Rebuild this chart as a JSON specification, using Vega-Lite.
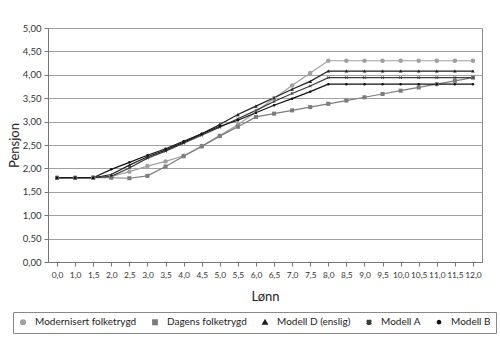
{
  "$schema": "https://vega.github.io/schema/vega-lite/v6.json",
  "width": 434,
  "height": 234,
  "autosize": {"type": "none"},
  "padding": {"left": 48, "top": 28, "right": 18, "bottom": 94},
  "background": "white",
  "config": {
    "font": "Lato",
    "view": {"stroke": "#8a8a8a", "strokeWidth": 1}
  },
  "data": {
    "values": [
      {"Lønn": "0,0", "Modernisert folketrygd": 1.80, "Dagens folketrygd": 1.80, "Modell D (enslig)": 1.80, "Modell A": 1.80, "Modell B": 1.80},
      {"Lønn": "1,0", "Modernisert folketrygd": 1.80, "Dagens folketrygd": 1.80, "Modell D (enslig)": 1.80, "Modell A": 1.80, "Modell B": 1.80},
      {"Lønn": "1,5", "Modernisert folketrygd": 1.81, "Dagens folketrygd": 1.80, "Modell D (enslig)": 1.80, "Modell A": 1.80, "Modell B": 1.80},
      {"Lønn": "2,0", "Modernisert folketrygd": 1.83, "Dagens folketrygd": 1.80, "Modell D (enslig)": 1.87, "Modell A": 1.83, "Modell B": 1.98},
      {"Lønn": "2,5", "Modernisert folketrygd": 1.93, "Dagens folketrygd": 1.79, "Modell D (enslig)": 2.07, "Modell A": 2.01, "Modell B": 2.13},
      {"Lønn": "3,0", "Modernisert folketrygd": 2.05, "Dagens folketrygd": 1.84, "Modell D (enslig)": 2.25, "Modell A": 2.22, "Modell B": 2.28},
      {"Lønn": "3,5", "Modernisert folketrygd": 2.15, "Dagens folketrygd": 2.04, "Modell D (enslig)": 2.39, "Modell A": 2.37, "Modell B": 2.42},
      {"Lønn": "4,0", "Modernisert folketrygd": 2.27, "Dagens folketrygd": 2.26, "Modell D (enslig)": 2.56, "Modell A": 2.54, "Modell B": 2.58},
      {"Lønn": "4,5", "Modernisert folketrygd": 2.48, "Dagens folketrygd": 2.47, "Modell D (enslig)": 2.74, "Modell A": 2.71, "Modell B": 2.74},
      {"Lønn": "5,0", "Modernisert folketrygd": 2.70, "Dagens folketrygd": 2.69, "Modell D (enslig)": 2.94, "Modell A": 2.88, "Modell B": 2.90},
      {"Lønn": "5,5", "Modernisert folketrygd": 2.93, "Dagens folketrygd": 2.89, "Modell D (enslig)": 3.15, "Modell A": 3.06, "Modell B": 3.03},
      {"Lønn": "6,0", "Modernisert folketrygd": 3.21, "Dagens folketrygd": 3.10, "Modell D (enslig)": 3.33, "Modell A": 3.24, "Modell B": 3.19},
      {"Lønn": "6,5", "Modernisert folketrygd": 3.50, "Dagens folketrygd": 3.17, "Modell D (enslig)": 3.51, "Modell A": 3.43, "Modell B": 3.35},
      {"Lønn": "7,0", "Modernisert folketrygd": 3.77, "Dagens folketrygd": 3.24, "Modell D (enslig)": 3.69, "Modell A": 3.60, "Modell B": 3.49},
      {"Lønn": "7,5", "Modernisert folketrygd": 4.04, "Dagens folketrygd": 3.31, "Modell D (enslig)": 3.86, "Modell A": 3.76, "Modell B": 3.64},
      {"Lønn": "8,0", "Modernisert folketrygd": 4.30, "Dagens folketrygd": 3.38, "Modell D (enslig)": 4.08, "Modell A": 3.94, "Modell B": 3.80},
      {"Lønn": "8,5", "Modernisert folketrygd": 4.30, "Dagens folketrygd": 3.45, "Modell D (enslig)": 4.08, "Modell A": 3.94, "Modell B": 3.80},
      {"Lønn": "9,0", "Modernisert folketrygd": 4.30, "Dagens folketrygd": 3.52, "Modell D (enslig)": 4.08, "Modell A": 3.94, "Modell B": 3.80},
      {"Lønn": "9,5", "Modernisert folketrygd": 4.30, "Dagens folketrygd": 3.59, "Modell D (enslig)": 4.08, "Modell A": 3.94, "Modell B": 3.80},
      {"Lønn": "10,0", "Modernisert folketrygd": 4.30, "Dagens folketrygd": 3.66, "Modell D (enslig)": 4.08, "Modell A": 3.94, "Modell B": 3.80},
      {"Lønn": "10,5", "Modernisert folketrygd": 4.30, "Dagens folketrygd": 3.73, "Modell D (enslig)": 4.08, "Modell A": 3.94, "Modell B": 3.80},
      {"Lønn": "11,0", "Modernisert folketrygd": 4.30, "Dagens folketrygd": 3.80, "Modell D (enslig)": 4.08, "Modell A": 3.94, "Modell B": 3.80},
      {"Lønn": "11,5", "Modernisert folketrygd": 4.30, "Dagens folketrygd": 3.87, "Modell D (enslig)": 4.08, "Modell A": 3.94, "Modell B": 3.80},
      {"Lønn": "12,0", "Modernisert folketrygd": 4.30, "Dagens folketrygd": 3.94, "Modell D (enslig)": 4.08, "Modell A": 3.94, "Modell B": 3.80}
    ]
  },
  "transform": [
    {"fold": ["Modernisert folketrygd", "Dagens folketrygd", "Modell D (enslig)", "Modell A", "Modell B"], "as": ["Serie", "Pensjon"]}
  ],
  "encoding": {
    "x": {
      "field": "Lønn",
      "type": "ordinal",
      "sort": null,
      "scale": {"type": "point", "padding": 0.5},
      "axis": {
        "title": "Lønn",
        "titleFont": "Lato",
        "titleFontSize": 13,
        "titleFontWeight": "normal",
        "titleColor": "#222",
        "titlePadding": 12,
        "labelAngle": 0,
        "labelFontSize": 8.4,
        "labelColor": "#333",
        "labelOverlap": false,
        "labelPadding": 4,
        "tickSize": 4,
        "tickColor": "#777",
        "domainColor": "#777",
        "grid": false
      }
    },
    "y": {
      "field": "Pensjon",
      "type": "quantitative",
      "scale": {"domain": [0, 5], "nice": false, "zero": true},
      "axis": {
        "title": "Pensjon",
        "titleFont": "Lato",
        "titleFontSize": 13,
        "titleFontWeight": "normal",
        "titleColor": "#222",
        "titlePadding": 1,
        "values": [0, 0.5, 1, 1.5, 2, 2.5, 3, 3.5, 4, 4.5, 5],
        "labelExpr": "replace(format(datum.value, '.2f'), '.', ',')",
        "labelFontSize": 9.5,
        "labelColor": "#333",
        "labelPadding": 3,
        "tickSize": 4,
        "tickColor": "#777",
        "domainColor": "#777",
        "grid": true,
        "gridColor": "#a0a0a0",
        "gridWidth": 1
      }
    },
    "color": {
      "field": "Serie",
      "type": "nominal",
      "scale": {
        "domain": ["Modernisert folketrygd", "Dagens folketrygd", "Modell D (enslig)", "Modell A", "Modell B"],
        "range": ["#a0a0a0", "#7c7c7c", "#1e1e1e", "#3a3a3a", "#111111"]
      },
      "legend": {
        "title": null,
        "orient": "none",
        "legendX": -35,
        "legendY": 284,
        "direction": "horizontal",
        "columns": 5,
        "columnPadding": 12,
        "padding": 5,
        "strokeColor": "#888",
        "fillColor": "white",
        "labelFont": "Lato",
        "labelFontSize": 10,
        "labelColor": "#222",
        "symbolSize": 30,
        "labelOffset": 7
      }
    }
  },
  "layer": [
    {
      "mark": {"type": "line", "strokeWidth": 1.2},
      "encoding": {
        "strokeWidth": {
          "field": "Serie",
          "type": "nominal",
          "scale": {
            "domain": ["Modernisert folketrygd", "Dagens folketrygd", "Modell D (enslig)", "Modell A", "Modell B"],
            "range": [1.6, 2.2, 1, 1, 1]
          },
          "legend": null
        }
      }
    },
    {
      "mark": {"type": "point", "filled": true, "opacity": 1},
      "encoding": {
        "shape": {
          "field": "Serie",
          "type": "nominal",
          "scale": {
            "domain": ["Modernisert folketrygd", "Dagens folketrygd", "Modell D (enslig)", "Modell A", "Modell B"],
            "range": ["circle", "square", "triangle-up", "M-1,-0.7L-0.7,-1L0,-0.3L0.7,-1L1,-0.7L0.3,0L1,0.7L0.7,1L0,0.3L-0.7,1L-1,0.7L-0.3,0Z", "circle"]
          }
        },
        "size": {
          "field": "Serie",
          "type": "nominal",
          "scale": {
            "domain": ["Modernisert folketrygd", "Dagens folketrygd", "Modell D (enslig)", "Modell A", "Modell B"],
            "range": [20, 6, 22, 22, 24]
          },
          "legend": null
        }
      }
    }
  ]
}
